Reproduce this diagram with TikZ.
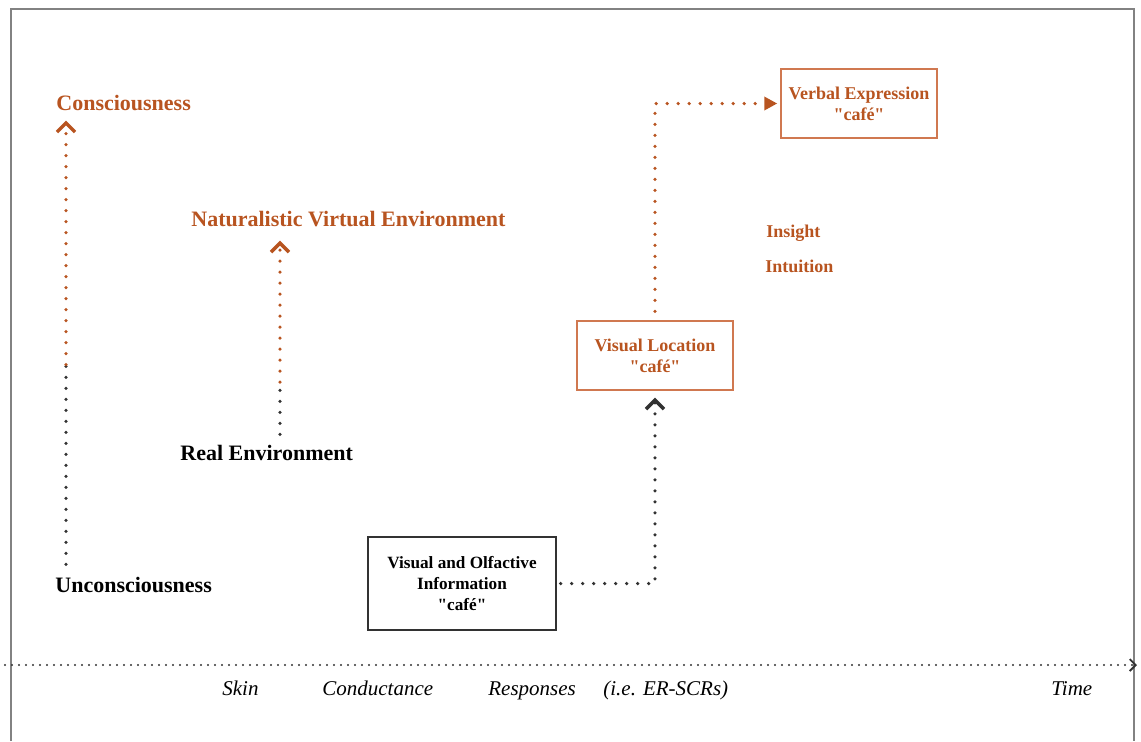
\documentclass[tikz,border=0pt]{standalone}
\usepackage{fontspec}
\setmainfont{Liberation Serif}
\usetikzlibrary{positioning,arrows.meta}
\definecolor{rust}{RGB}{184,84,32}
\definecolor{rustline}{RGB}{208,120,80}
\definecolor{framegray}{RGB}{130,130,130}
\definecolor{inkgray}{RGB}{50,50,50}

\newcommand{\qcafe}{\textquotedbl caf\'e\textquotedbl}

\begin{document}
\begin{tikzpicture}[
  x=0.5pt, y=-0.5pt,
  tag/.style={inner sep=0pt, anchor=base west, font=\bfseries\fontsize{11}{13}\selectfont},
  small/.style={inner sep=0pt, anchor=base west, font=\bfseries\fontsize{9}{11}\selectfont, text=rust},
  axislabel/.style={inner sep=0pt, anchor=base west, font=\itshape\fontsize{10.5}{12}\selectfont},
  box/.style={
    draw,
    align=center,
    inner sep=0pt,
    line width=0.7pt,
    minimum width=78pt,
    minimum height=34.5pt,
    font=\bfseries\fontsize{9}{10.5}\selectfont
  },
  dots/.style={line width=1.8pt, line cap=round, dash pattern=on 0pt off 5.5pt},
  uparrow/.style={-{Straight Barb[length=4.5pt,width=9pt,line width=1.7pt]}},
  node distance=6mm and 6mm
]

% frame
\useasboundingbox (0,0) rectangle (1141,741);
\draw[framegray, line width=1pt] (11,741) -- (11,9) -- (1134,9) -- (1134,741);

% left column
\node[tag, text=rust] (con) at (56,110) {Consciousness};
\node[tag] (uncon) at (55,592) {Unconsciousness};

\node[tag, text=rust] (nve) at (191,226) {Naturalistic Virtual Environment};
\node[tag] (real) at (180,460) {Real Environment};

% boxes
\node[box, draw=inkgray, minimum width=94pt, minimum height=46.5pt, font=\bfseries\fontsize{8.6}{10.5}\selectfont] (info) at (462,583.5) {Visual and Olfactive\\Information\\\qcafe};
\node[box, draw=rustline, text=rust] (visloc) at (655,355.5) {Visual Location\\\qcafe};
\node[box, draw=rustline, text=rust] (verbal) at (859,103.5) {Verbal Expression\\\qcafe};

\node[small] (insight) at (766,237) {Insight};
\node[small] (intuition) at (765,272) {Intuition};

% time axis
\coordinate (t0) at (5,665);
\coordinate (t1) at (1137,665);
\draw[inkgray, line width=1.2pt, line cap=round, dash pattern=on 0pt off 3.5pt,
  -{Straight Barb[length=3pt,width=6pt,line width=0.9pt]}] (t0) -- (t1);

\node[axislabel] (skin) at (222,695) {Skin};
\node[axislabel] (cond) at (322,695) {Conductance};
\node[axislabel] (resp) at (488,695) {Responses};
\node[axislabel] (scr) at (603,695) {(i.e. ER-SCRs)};
\node[axislabel] (time) at (1051,695) {Time};

% arrows
\coordinate (u0) at ([xshift=5.5pt,yshift=6pt]uncon.north west);
\coordinate (u1) at ([xshift=5pt,yshift=-5pt]con.south west);
\path (u0) -- coordinate[pos=.45] (um) (u1);
\draw[dots, inkgray] (u0) -- (um);
\draw[dots, rust, uparrow] (um) -- (u1);

\coordinate (r0) at ([xshift=50pt,yshift=5pt]real.north west);
\coordinate (r1) at ([yshift=-7pt]r0 |- nve.south);
\path (r0) -- coordinate[pos=.27] (rm) (r1);
\draw[dots, inkgray] (r0) -- (rm);
\draw[dots, rust, uparrow] (rm) -- (r1);

\draw[dots, inkgray, uparrow] ([xshift=2pt]info.east) -| ([yshift=-3.5pt]visloc.south);
\draw[dots, rust, -{Triangle[length=6.5pt,width=6.5pt]}] ([yshift=4.5pt]visloc.north) |- ([xshift=-1.5pt]verbal.west);

\end{tikzpicture}
\end{document}
